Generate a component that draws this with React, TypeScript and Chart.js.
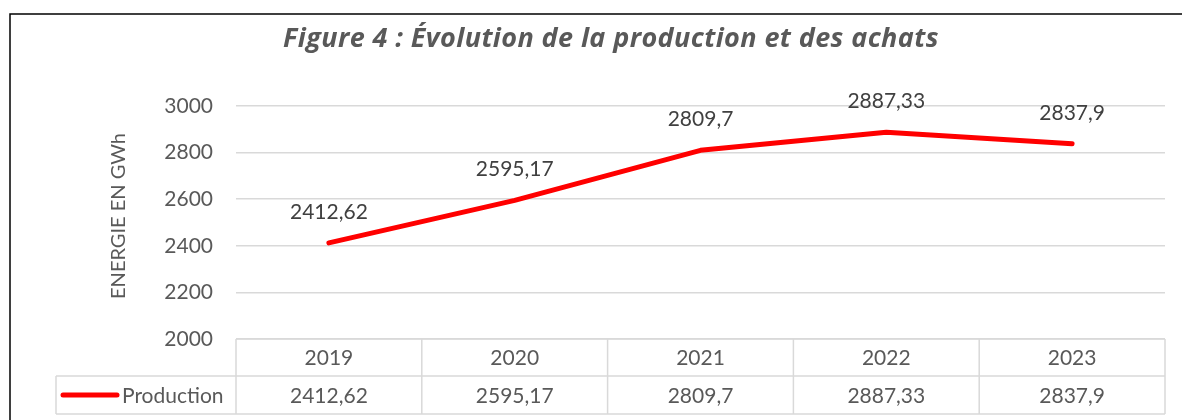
import React, { useEffect, useRef } from "react";
import { Chart, registerables } from "chart.js";

Chart.register(...registerables);

const categories = ["2019", "2020", "2021", "2022", "2023"];
const production = [2412.62, 2595.17, 2809.7, 2887.33, 2837.9];
const seriesName = "Production";
const titleText = "Figure 4 : Évolution de la production et des achats";
const yAxisTitle = "ENERGIE EN GWh";
const yMin = 2000;
const yMax = 3000;
const yStep = 200;

const fmt = (v: number) => String(v).replace(".", ",");

const FONT = "Lato, 'Open Sans', sans-serif";
const TITLE_FONT = "'Open Sans', Lato, sans-serif";

export default function App() {
  const ref = useRef<HTMLCanvasElement | null>(null);

  useEffect(() => {
    if (!ref.current) return;

    const decorPlugin = {
      id: "decor",
      beforeDraw(chart: any) {
        const ctx = chart.ctx;
        ctx.save();
        ctx.fillStyle = "#ffffff";
        ctx.fillRect(0, 0, chart.width, chart.height);
        ctx.strokeStyle = "#000000";
        ctx.lineWidth = 1.5;
        ctx.beginPath();
        ctx.moveTo(10, chart.height);
        ctx.lineTo(10, 14);
        ctx.lineTo(chart.width, 14);
        ctx.stroke();
        // title
        ctx.fillStyle = "#595959";
        ctx.font = `italic bold 27px ${TITLE_FONT}`;
        try {
          (ctx as any).letterSpacing = "0.4px";
        } catch (e) {}
        ctx.textAlign = "center";
        ctx.textBaseline = "alphabetic";
        ctx.fillText(titleText, 611, 47);
        try {
          (ctx as any).letterSpacing = "0px";
        } catch (e) {}
        // y axis title
        ctx.save();
        ctx.translate(119, 216);
        ctx.rotate(-Math.PI / 2);
        ctx.font = `20px ${FONT}`;
        ctx.textAlign = "center";
        ctx.textBaseline = "middle";
        ctx.fillText(yAxisTitle, 0, 0);
        ctx.restore();
        ctx.restore();
      },
      afterDraw(chart: any) {
        const ctx = chart.ctx;
        const area = chart.chartArea;
        const xs = chart.scales.x;
        const meta = chart.getDatasetMeta(0);
        const n = categories.length;
        const colW = (area.right - area.left) / n;
        const r0 = area.bottom;
        const r1 = r0 + 37;
        const r2 = r0 + 75;
        const legendLeft = 56;
        ctx.save();
        // data labels
        ctx.fillStyle = "#404040";
        ctx.font = `21px ${FONT}`;
        ctx.textAlign = "center";
        ctx.textBaseline = "middle";
        meta.data.forEach((pt: any, i: number) => {
          ctx.fillText(fmt(production[i]), pt.x, pt.y - 31);
        });
        // table
        ctx.strokeStyle = "#D9D9D9";
        ctx.lineWidth = 1.5;
        ctx.beginPath();
        ctx.moveTo(area.left, r0);
        ctx.lineTo(area.right, r0);
        ctx.moveTo(legendLeft, r1);
        ctx.lineTo(area.right, r1);
        ctx.moveTo(legendLeft, r2);
        ctx.lineTo(area.right, r2);
        ctx.moveTo(legendLeft, r1);
        ctx.lineTo(legendLeft, r2);
        for (let i = 0; i <= n; i++) {
          const x = area.left + i * colW;
          ctx.moveTo(x, r0);
          ctx.lineTo(x, r2);
        }
        ctx.stroke();
        ctx.fillStyle = "#595959";
        ctx.font = `21px ${FONT}`;
        ctx.textAlign = "center";
        ctx.textBaseline = "middle";
        categories.forEach((c, i) => {
          const cx = xs.getPixelForValue(i);
          ctx.fillText(c, cx, (r0 + r1) / 2 + 1);
          ctx.fillText(fmt(production[i]), cx, (r1 + r2) / 2 + 1);
        });
        // legend
        ctx.strokeStyle = "#FF0000";
        ctx.lineWidth = 5;
        ctx.lineCap = "round";
        ctx.beginPath();
        ctx.moveTo(63, (r1 + r2) / 2);
        ctx.lineTo(117, (r1 + r2) / 2);
        ctx.stroke();
        ctx.textAlign = "left";
        ctx.fillText(seriesName, 122, (r1 + r2) / 2 + 1);
        ctx.restore();
      },
    };

    const chart = new Chart(ref.current, {
      type: "line",
      data: {
        labels: categories,
        datasets: [
          {
            label: seriesName,
            data: production,
            borderColor: "#FF0000",
            backgroundColor: "#FF0000",
            borderWidth: 5,
            pointRadius: 0,
            tension: 0,
            borderCapStyle: "round",
            borderJoinStyle: "round",
          },
        ],
      },
      options: {
        responsive: false,
        animation: false,
        layout: { padding: { left: 0, right: 17, top: 106, bottom: 0 } },
        plugins: {
          legend: { display: false },
          title: { display: false },
          tooltip: { enabled: false },
        },
        scales: {
          x: {
            type: "category",
            offset: true,
            ticks: { display: false },
            grid: { display: false },
            border: { display: false },
            afterFit(scale: any) {
              scale.height = 81;
            },
          },
          y: {
            min: yMin,
            max: yMax,
            ticks: {
              stepSize: yStep,
              color: "#595959",
              font: { family: FONT, size: 21 },
              padding: 23,
              callback: (v: any) => String(v),
            },
            grid: { color: "#D9D9D9", lineWidth: 1.5, drawTicks: false },
            border: { display: false },
            title: { display: false },
            afterFit(scale: any) {
              scale.width = 236;
            },
          },
        },
      },
      plugins: [decorPlugin],
    } as any);

    return () => chart.destroy();
  }, []);

  return (
    <div style={{ position: "fixed", left: 0, top: 0, width: 1182, height: 420, background: "#fff" }}>
      <canvas ref={ref} width={1182} height={420} style={{ display: "block" }} />
    </div>
  );
}
